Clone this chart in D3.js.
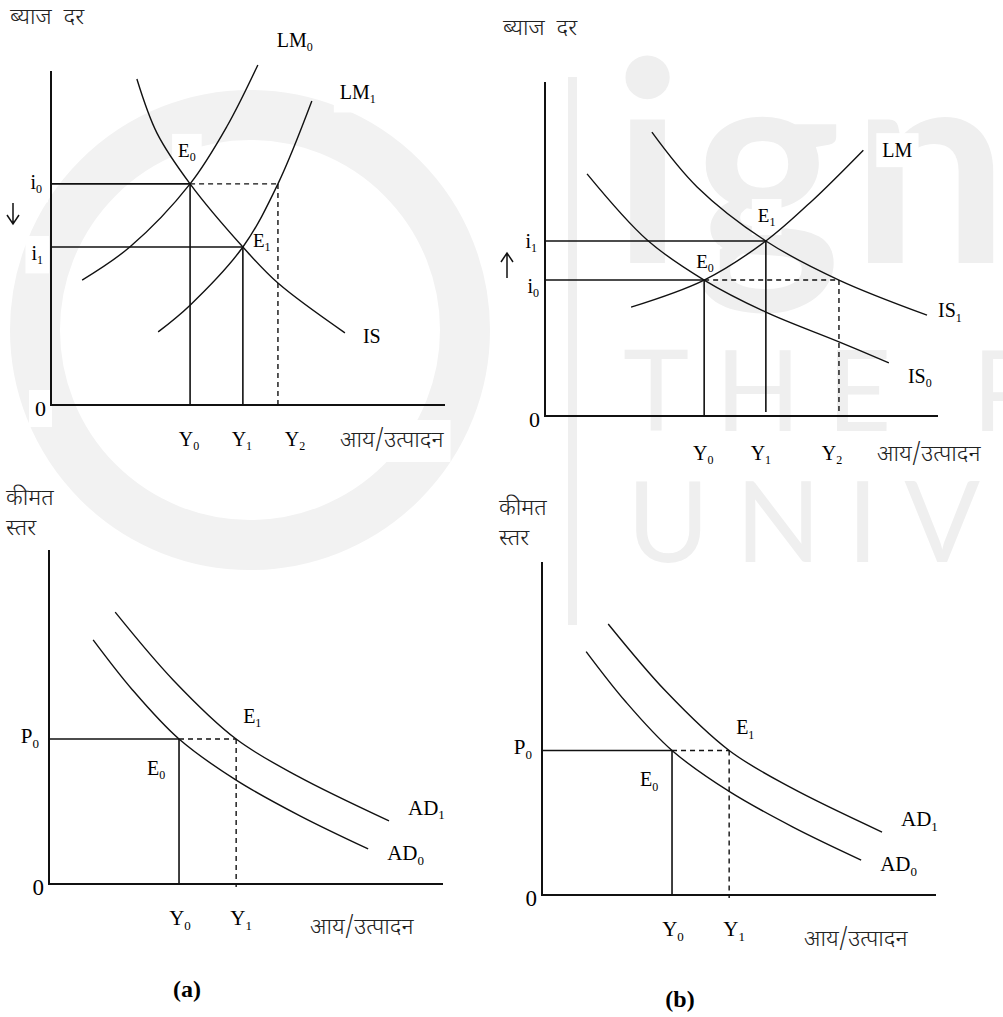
<!DOCTYPE html>
<html>
<head>
<meta charset="utf-8">
<script src="https://cdn.jsdelivr.net/npm/d3@7"></script>
<style>
  body { margin: 0; background: #fff; }
  svg { display: block; }
</style>
</head>
<body>
<div id="chart"></div>
<script>
// ---- data (abstract units, 0..100 on each axis) ----
// (a) top: IS-LM, monetary expansion
const lmA0 = [[7.9, 37.4], [20.0, 47.3], [35.3, 66.2], [44.6, 83.3], [52.5, 101.8]];
const lmA1 = [[27.2, 21.9], [35.3, 29.9], [48.7, 47.3], [57.6, 66.2], [66.2, 91.0]];
const isA = [[21.8, 97.6], [26.9, 81.4], [35.3, 66.2], [48.7, 47.3], [57.6, 36.5], [74.6, 21.6]];
const ratesA = [66.2, 47.3];          // i0, i1
const incomesA = [35.3, 48.7, 57.6];  // Y0, Y1, Y2

// (b) top: IS-LM, fiscal expansion
const lmB = [[21.9, 32.6], [40.5, 40.7], [56.2, 52.4], [68.2, 64.7], [81.0, 79.6]];
const isB0 = [[10.7, 72.5], [26.0, 52.7], [40.5, 40.7], [56.2, 31.1], [74.8, 22.2], [87.5, 15.9]];
const isB1 = [[27.2, 85.0], [38.7, 68.6], [56.2, 52.4], [74.8, 40.7], [97.2, 30.2]];
const ratesB = [40.7, 52.4];          // i0, i1
const incomesB = [40.5, 56.2, 74.8];  // Y0, Y1, Y2

// bottom: aggregate demand (same in both panels)
const ad0 = [[11.2, 73.1], [21.2, 58.1], [33.0, 43.4], [47.5, 31.1], [63.7, 20.4], [81.0, 10.5]];
const ad1 = [[16.8, 81.4], [31.5, 61.1], [47.5, 43.4], [63.1, 32.3], [86.3, 18.9]];
const priceLevel = 43.4;              // P0
const outputAD = [33.0, 47.5];        // Y0, Y1

const rateTitle = "ब्याज  दर";
const priceTitle = ["कीमत", "स्तर"];
const incomeTitle = "आय/उत्पादन";
const watermark = ["ign", "THE PE", "UNIVE"];

const SERIF = "'Liberation Serif','Times New Roman',serif";
const DEVA = "'Noto Sans Devanagari','Lohit Devanagari','Mangal','FreeSans','Noto Sans',sans-serif";

const width = 1003, height = 1017;

const svg = d3.select("#chart").append("svg")
    .attr("width", width)
    .attr("height", height);

// faint watermark in the background
const wm = svg.append("g").attr("fill", "#efefef").attr("stroke", "none");
wm.append("circle").attr("cx", 250).attr("cy", 330).attr("r", 215)
    .attr("fill", "none").attr("stroke", "#f2f2f2").attr("stroke-width", 50);
wm.append("rect").attr("x", 568).attr("y", 77).attr("width", 9).attr("height", 548);
wm.append("text").attr("x", 612).attr("y", 263).attr("letter-spacing", 10)
    .style("font", "bold 280px Lato, sans-serif").text(watermark[0]);
wm.append("text").attr("x", 623).attr("y", 431).attr("letter-spacing", 26)
    .style("font", "112px Lato, sans-serif").text(watermark[1]);
wm.append("text").attr("x", 627).attr("y", 562).attr("letter-spacing", 26)
    .style("font", "112px Lato, sans-serif").text(watermark[2]);

// white patches behind labels (as in the scanned figure), then marks, then labels
const bg = svg.append("g").attr("fill", "#fff");
const marks = svg.append("g");
const texts = svg.append("g");

function patch(t, pad) {
  const b = t.node().getBBox();
  bg.append("rect")
      .attr("x", b.x - pad).attr("y", b.y - pad)
      .attr("width", b.width + 2 * pad).attr("height", b.height + 2 * pad);
}

const line = (sx, sy) => d3.line()
    .x(d => sx(d[0]))
    .y(d => sy(d[1]))
    .curve(d3.curveCatmullRom.alpha(0.5));

function sub(x, y, main, s, size, anchor) {
  const t = texts.append("text")
      .attr("x", x).attr("y", y)
      .attr("text-anchor", anchor || "start")
      .style("font-family", SERIF)
      .style("font-size", size + "px")
      .attr("fill", "#000");
  t.append("tspan").text(main);
  if (s !== undefined) {
    t.append("tspan").attr("dy", size * 0.22).style("font-size", Math.round(size * 0.62) + "px").text(s);
  }
  patch(t, 6);
  return t;
}

function deva(x, y, txt, anchor) {
  const t = texts.append("text")
      .attr("x", x).attr("y", y)
      .attr("text-anchor", anchor || "start")
      .style("font-family", DEVA)
      .style("font-size", "23px")
      .style("font-weight", 300)
      .style("white-space", "pre")
      .attr("fill", "#222")
      .text(txt);
  patch(t, 6);
}

function panel(cfg) {
  const sx = d3.scaleLinear().domain([0, 100]).range(cfg.xr);
  const sy = d3.scaleLinear().domain([0, 100]).range(cfg.yr);
  const g = marks.append("g");

  // axes: plain L shape, no ticks
  g.append("path")
      .attr("d", `M${sx(0)},${cfg.top}V${sy(0)}H${sx(100)}`)
      .attr("fill", "none").attr("stroke", "#111").attr("stroke-width", 2);

  // guide lines
  cfg.guides.forEach(s => {
    g.append("line")
        .attr("x1", sx(s[0])).attr("y1", sy(s[1]))
        .attr("x2", sx(s[2])).attr("y2", sy(s[3]) + (s[5] || 0))
        .attr("stroke", "#111")
        .attr("stroke-width", s[4] ? 1.4 : 1.6)
        .attr("stroke-dasharray", s[4] ? "5,4" : null);
  });

  // curves and their labels
  cfg.curves.forEach(c => {
    g.append("path")
        .attr("d", line(sx, sy)(c.pts))
        .attr("fill", "none").attr("stroke", "#111").attr("stroke-width", 1.4);
    const last = c.pts[c.pts.length - 1];
    sub(sx(last[0]) + c.dx, sy(last[1]) + c.dy, c.name, c.sub, cfg.size);
  });

  // equilibrium labels
  cfg.points.forEach(p => sub(sx(p.x) + p.dx, sy(p.y) + p.dy, "E", p.sub, cfg.size - 1));

  // axis value labels
  cfg.yLabels.forEach(l => sub(sx(0) + l.dx, sy(l.v) + l.dy, l.name, l.sub, cfg.size, "end"));
  cfg.xLabels.forEach(l => sub(sx(l.v) + l.dx, sy(0) + cfg.xLabDy, "Y", l.sub, cfg.size, "middle"));
  sub(sx(0) - 5, sy(0) + 11, "0", undefined, cfg.size + 2, "end");

  // titles
  cfg.titles.forEach(t => deva(t[0], t[1], t[2]));
  deva(cfg.incomeAt[0], cfg.incomeAt[1], incomeTitle);

  if (cfg.arrow) {
    const a = cfg.arrow;
    const dir = a.up ? -1 : 1;
    const tip = a.up ? a.y0 : a.y1;
    g.append("path")
        .attr("d", `M${a.x},${a.y0}V${a.y1}M${a.x - 6},${tip - 9 * dir}L${a.x},${tip}L${a.x + 6},${tip - 9 * dir}`)
        .attr("fill", "none").attr("stroke", "#111").attr("stroke-width", 1.5);
  }
  if (cfg.caption) {
    texts.append("text")
        .attr("x", cfg.caption[0]).attr("y", cfg.caption[1])
        .attr("text-anchor", "middle")
        .style("font", `bold 24px ${SERIF}`)
        .text(cfg.caption[2]);
  }
}

// (a) top
panel({
  xr: [51, 445], yr: [405, 71], top: 71, size: 20,
  guides: [
    [0, ratesA[0], incomesA[0], ratesA[0]],
    [0, ratesA[1], incomesA[1], ratesA[1]],
    [incomesA[0], ratesA[0], incomesA[2], ratesA[0], true],
    [incomesA[0], ratesA[0], incomesA[0], 0],
    [incomesA[1], ratesA[1], incomesA[1], 0],
    [incomesA[2], ratesA[0], incomesA[2], 0, true]
  ],
  curves: [
    {pts: lmA0, name: "LM", sub: "0", dx: 19, dy: -18},
    {pts: lmA1, name: "LM", sub: "1", dx: 28, dy: -2},
    {pts: isA, name: "IS", dx: 18, dy: 10}
  ],
  points: [
    {x: incomesA[0], y: ratesA[0], sub: "0", dx: -12, dy: -27},
    {x: incomesA[1], y: ratesA[1], sub: "1", dx: 10, dy: 0}
  ],
  yLabels: [
    {v: ratesA[0], name: "i", sub: "0", dx: -9, dy: 5},
    {v: ratesA[1], name: "i", sub: "1", dx: -8, dy: 13}
  ],
  xLabels: [
    {v: incomesA[0], sub: "0", dx: -1},
    {v: incomesA[1], sub: "1", dx: -1},
    {v: incomesA[2], sub: "2", dx: 17}
  ],
  xLabDy: 41,
  titles: [[10, 24, rateTitle]],
  incomeAt: [340, 447],
  arrow: {x: 13, y0: 203, y1: 224, up: false}
});

// (b) top
panel({
  xr: [545, 938], yr: [416, 82], top: 82, size: 20,
  guides: [
    [0, ratesB[1], incomesB[1], ratesB[1]],
    [0, ratesB[0], incomesB[0], ratesB[0]],
    [incomesB[0], ratesB[0], incomesB[2], ratesB[0], true],
    [incomesB[0], ratesB[0], incomesB[0], 0],
    [incomesB[1], ratesB[1], incomesB[1], 0, false, -4],
    [incomesB[2], ratesB[0], incomesB[2], 0, true]
  ],
  curves: [
    {pts: lmB, name: "LM", dx: 19, dy: 7},
    {pts: isB1, name: "IS", sub: "1", dx: 11, dy: 2},
    {pts: isB0, name: "IS", sub: "0", dx: 19, dy: 20}
  ],
  points: [
    {x: incomesB[0], y: ratesB[0], sub: "0", dx: -8, dy: -12},
    {x: incomesB[1], y: ratesB[1], sub: "1", dx: -8, dy: -19}
  ],
  yLabels: [
    {v: ratesB[1], name: "i", sub: "1", dx: -8, dy: 7},
    {v: ratesB[0], name: "i", sub: "0", dx: -6, dy: 13}
  ],
  xLabels: [
    {v: incomesB[0], sub: "0", dx: -1},
    {v: incomesB[1], sub: "1", dx: -5},
    {v: incomesB[2], sub: "2", dx: -7}
  ],
  xLabDy: 44,
  titles: [[503, 35, rateTitle]],
  incomeAt: [877, 461],
  arrow: {x: 507, y0: 253, y1: 278, up: true}
});

// bottom panels share the AD data
function adPanel(xr, yr, titleAt, incomeAt, caption) {
  panel({
    xr: xr, yr: yr, top: yr[1], size: 21,
    guides: [
      [0, priceLevel, outputAD[0], priceLevel],
      [outputAD[0], priceLevel, outputAD[1], priceLevel, true],
      [outputAD[0], priceLevel, outputAD[0], 0],
      [outputAD[1], priceLevel, outputAD[1], 0, true, 3]
    ],
    curves: [
      {pts: ad1, name: "AD", sub: "1", dx: 19, dy: -6},
      {pts: ad0, name: "AD", sub: "0", dx: 19, dy: 11}
    ],
    points: [
      {x: outputAD[0], y: priceLevel, sub: "0", dx: -32, dy: 36},
      {x: outputAD[1], y: priceLevel, sub: "1", dx: 7, dy: -16}
    ],
    yLabels: [
      {v: priceLevel, name: "P", sub: "0", dx: -10, dy: 4}
    ],
    xLabels: [
      {v: outputAD[0], sub: "0", dx: 1},
      {v: outputAD[1], sub: "1", dx: 5}
    ],
    xLabDy: 41,
    titles: [[titleAt[0], titleAt[1], priceTitle[0]], [titleAt[0], titleAt[1] + 30, priceTitle[1]]],
    incomeAt: incomeAt,
    caption: caption
  });
}

adPanel([49, 443], [884, 550], [6, 505], [310, 934], [187, 997, "(a)"]);
adPanel([542, 936], [895, 562], [499, 515], [804, 946], [680, 1007, "(b)"]);
</script>
</body>
</html>
